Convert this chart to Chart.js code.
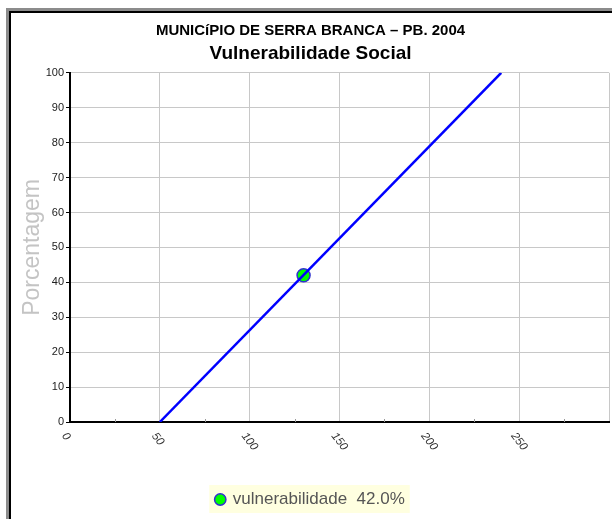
<!DOCTYPE html>
<html>
<head>
<meta charset="utf-8">
<script src="https://cdn.jsdelivr.net/npm/chart.js@4.4.1/dist/chart.umd.min.js"></script>
<style>
  html, body { margin: 0; padding: 0; background: #fff; }
  #wrap { width: 612px; height: 519px; }
</style>
</head>
<body>
<div id="wrap"><canvas id="grafico" width="612" height="519"></canvas></div>
<script>
// Dados do gráfico
const linhaX = [50, 240];
const linhaY = [0, 100];
const pontoX = [130];
const pontoY = [42];
const xTickLabels = [0, 50, 100, 150, 200, 250];
const xMinor = [25, 75, 125, 175, 225, 275];
const serieNome = 'vulnerabilidade';
const serieValor = '42.0%';

// Moldura + fundo da legenda
const molduraPlugin = {
    id: 'moldura',
    beforeDraw(chart) {
        const c = chart.ctx;
        c.save();
        c.fillStyle = '#fff';
        c.fillRect(0, 0, chart.width, chart.height);
        c.fillStyle = '#8c8c8c';
        c.fillRect(6, 8, chart.width - 6, 3);
        c.fillRect(6, 8, 3, chart.height - 8);
        c.fillStyle = '#000';
        c.fillRect(9, 11, chart.width - 9, 2);
        c.fillRect(9, 11, 2, chart.height - 11);
        // fundo amarelo da legenda
        const hb = chart.legend.legendHitBoxes[0];
        if (hb) {
            c.fillStyle = '#ffffe0';
            c.fillRect(hb.left - 7, hb.top - 6, hb.width + 12, hb.height + 11);
        }
        c.restore();
    },
    afterDraw(chart) {
        const c = chart.ctx;
        const xs = chart.scales.x;
        const bottom = chart.chartArea.bottom;
        c.save();
        // ticks menores no eixo x
        c.strokeStyle = '#999';
        c.lineWidth = 1;
        xMinor.forEach(v => {
            const px = Math.round(xs.getPixelForValue(v)) + 0.5;
            c.beginPath();
            c.moveTo(px, bottom - 3);
            c.lineTo(px, bottom);
            c.stroke();
        });
        // rótulos do eixo x inclinados
        c.fillStyle = '#333';
        c.font = 'italic 11.5px "Liberation Sans", Arial, sans-serif';
        c.textAlign = 'left';
        c.textBaseline = 'middle';
        xTickLabels.forEach(v => {
            const px = xs.getPixelForValue(v);
            c.save();
            c.translate(px - 6, bottom + 12);
            c.rotate(52 * Math.PI / 180);
            c.fillText(String(v), 0, 0);
            c.restore();
        });
        c.restore();
    }
};

const ctx = document.getElementById('grafico').getContext('2d');
const grafico = new Chart(ctx, {
    type: 'scatter',
    data: {
        datasets: [{
            label: serieNome,
            data: linhaX.map((x, i) => ({ x: x, y: linhaY[i] })),
            showLine: true,
            borderColor: '#0000ff',
            borderWidth: 2.5,
            pointRadius: 0,
            pointHoverRadius: 0
        }, {
            label: serieNome,
            data: pontoX.map((x, i) => ({ x: x, y: pontoY[i] })),
            backgroundColor: '#00ff00',
            borderColor: '#3030d0',
            borderWidth: 1.5,
            pointRadius: 6.5
        }]
    },
    options: {
        responsive: false,
        animation: false,
        layout: { autoPadding: false, padding: { left: 12, right: 3, top: 22, bottom: 1 } },
        plugins: {
            title: {
                display: true,
                text: 'MUNICíPIO DE SERRA BRANCA – PB. 2004',
                color: '#000',
                font: { family: '"Liberation Sans", Arial, sans-serif', size: 15, weight: 'bold' },
                padding: { top: 0, bottom: 2 }
            },
            subtitle: {
                display: true,
                text: 'Vulnerabilidade Social',
                color: '#000',
                font: { family: '"Liberation Sans", Arial, sans-serif', size: 19, weight: 'bold' },
                padding: { top: 0, bottom: 8 }
            },
            legend: {
                position: 'bottom',
                labels: {
                    usePointStyle: true,
                    boxWidth: 8,
                    boxHeight: 8,
                    padding: 10,
                    color: '#555',
                    font: { family: '"Liberation Sans", Arial, sans-serif', size: 17 },
                    generateLabels: () => [{
                        text: serieNome + '  ' + serieValor,
                        fillStyle: '#00ff00',
                        strokeStyle: '#3030d0',
                        lineWidth: 1.5,
                        pointStyle: 'circle',
                        fontColor: '#555',
                        datasetIndex: 1
                    }]
                }
            },
            tooltip: { enabled: false }
        },
        scales: {
            x: {
                type: 'linear',
                min: 0,
                max: 300,
                ticks: { display: false, stepSize: 50 },
                grid: { color: '#c8c8c8', lineWidth: 1, drawTicks: false },
                border: { color: '#000', width: 2 },
                afterFit(scale) { scale.height = 59; }
            },
            y: {
                min: 0,
                max: 100,
                ticks: {
                    stepSize: 10,
                    padding: 2,
                    color: '#222',
                    font: { family: '"Liberation Sans", Arial, sans-serif', size: 11 }
                },
                grid: { color: '#c8c8c8', lineWidth: 1, tickLength: 4, tickColor: '#000' },
                border: { color: '#000', width: 2 },
                title: {
                    display: true,
                    text: 'Porcentagem',
                    color: '#c4c4c4',
                    padding: { top: 7, bottom: 0 },
                    font: { family: '"Liberation Sans", Arial, sans-serif', size: 23 }
                },
                afterFit(scale) { scale.width = 58; }
            }
        }
    },
    plugins: [molduraPlugin]
});
</script>
</body>
</html>
